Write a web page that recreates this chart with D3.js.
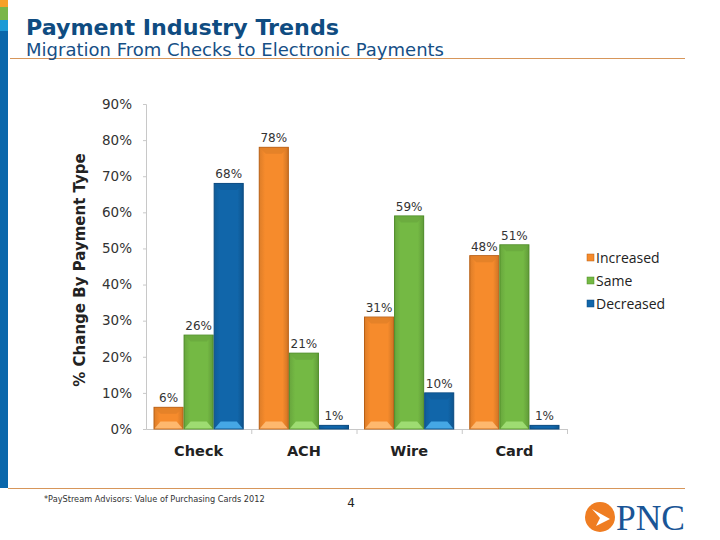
<!DOCTYPE html>
<html>
<head>
<meta charset="utf-8">
<script src="https://cdn.jsdelivr.net/npm/d3@7"></script>
<style>
  html, body { margin: 0; padding: 0; background: #fff; }
  svg { display: block; font-family: "DejaVu Sans", Verdana, sans-serif; }
</style>
</head>
<body>
<svg id="chart" width="720" height="540"></svg>
<script>
// ---- data ----
const categories = ["Check", "ACH", "Wire", "Card"];
const seriesNames = ["Increased", "Same", "Decreased"];
const increased = [6, 78, 31, 48];
const same = [26, 21, 59, 51];
const decreased = [68, 1, 10, 1];
const yTicks = [0, 10, 20, 30, 40, 50, 60, 70, 80, 90];
const titleText = "Payment Industry Trends";
const subtitleText = "Migration From Checks to Electronic Payments";
const yTitle = "% Change By Payment Type";
const footnote = "*PayStream Advisors: Value of Purchasing Cards 2012";
const pageNumber = "4";

const seriesValues = [increased, same, decreased];
const colors = ["#F68B2C", "#74B944", "#1166AA"];
const darkColors = ["#B85F14", "#4C8A25", "#0A4A80"];
const lightColors = ["#FFC07A", "#A6E27A", "#4FB3F0"];

const svg = d3.select("#chart");

// ---- slide frame ----
const stripe = [["#F7A128", 0, 7], ["#7AB648", 7, 20], ["#1C9AD6", 20, 31], ["#0A67AB", 31, 488]];
svg.selectAll("rect.stripe").data(stripe).enter().append("rect")
  .attr("x", 0).attr("y", d => d[1]).attr("width", 8).attr("height", d => d[2] - d[1])
  .attr("fill", d => d[0]);
svg.append("line").attr("x1", 10).attr("x2", 685).attr("y1", 58.5).attr("y2", 58.5)
  .attr("stroke", "#D7965A").attr("stroke-width", 1);
svg.append("line").attr("x1", 8).attr("x2", 685).attr("y1", 488.5).attr("y2", 488.5)
  .attr("stroke", "#D7965A").attr("stroke-width", 1);

svg.append("text").attr("x", 26).attr("y", 35).text(titleText)
  .attr("font-size", 22).attr("font-weight", "bold").attr("fill", "#0F4C81")
  .attr("textLength", 313).attr("lengthAdjust", "spacingAndGlyphs");
svg.append("text").attr("x", 26).attr("y", 56).text(subtitleText)
  .attr("font-size", 17.5).attr("fill", "#164F86")
  .attr("textLength", 418).attr("lengthAdjust", "spacingAndGlyphs");

// ---- chart ----
const x0 = d3.scaleBand().domain(categories).range([146, 567]).paddingInner(0).paddingOuter(0);
const x1 = d3.scaleBand().domain(seriesNames).range([0, x0.bandwidth()]).paddingInner(0).paddingOuter(0.25);
const y = d3.scaleLinear().domain([0, 90]).range([429, 104]);

// defs: gradients for bars
const defs = svg.append("defs");
seriesNames.forEach((s, i) => {
  const g = defs.append("linearGradient").attr("id", "grad" + i).attr("x1", 0).attr("x2", 1).attr("y1", 0).attr("y2", 0);
  g.append("stop").attr("offset", "0%").attr("stop-color", d3.color(colors[i]).darker(0.3));
  g.append("stop").attr("offset", "20%").attr("stop-color", colors[i]);
  g.append("stop").attr("offset", "80%").attr("stop-color", colors[i]);
  g.append("stop").attr("offset", "100%").attr("stop-color", d3.color(colors[i]).darker(0.5));
});

// y axis
const yAxis = d3.axisLeft(y).tickValues(yTicks).tickFormat(d => d + "%").tickSize(3).tickPadding(11);
const gy = svg.append("g").attr("transform", "translate(146,0)").call(yAxis);
gy.select(".domain").attr("stroke", "#C8C8C8");
gy.selectAll(".tick line").attr("stroke", "#C8C8C8");
gy.selectAll(".tick text").attr("font-size", 13.5).attr("fill", "#333").attr("font-family", "DejaVu Sans, sans-serif");

// x axis
const xAxis = d3.axisBottom(x0).tickSize(0).tickPadding(17);
const gx = svg.append("g").attr("transform", "translate(0,429)").call(xAxis);
gx.select(".domain").attr("stroke", "#C8C8C8");
gx.selectAll(".tick text").attr("font-size", 14.5).attr("font-weight", "bold").attr("fill", "#222")
  .attr("font-family", "DejaVu Sans, sans-serif");
// category separators
gx.selectAll("line.sep").data(categories).enter().append("line")
  .attr("x1", d => x0(d) + x0.bandwidth() + 0.5).attr("x2", d => x0(d) + x0.bandwidth() + 0.5)
  .attr("y1", 0).attr("y2", 5).attr("stroke", "#C8C8C8");

// bars
const flat = [];
categories.forEach((c, ci) => seriesNames.forEach((s, si) => flat.push({ c, s, si, v: seriesValues[si][ci] })));

const bars = svg.append("g").selectAll("g.bar").data(flat).enter().append("g");
bars.append("rect")
  .attr("x", d => x0(d.c) + x1(d.s) + 0.5)
  .attr("y", d => y(d.v))
  .attr("width", x1.bandwidth() - 1)
  .attr("height", d => y(0) - y(d.v))
  .attr("fill", d => "url(#grad" + d.si + ")")
  .attr("stroke", d => darkColors[d.si]).attr("stroke-width", 1);
// bottom bevel highlight
bars.filter(d => y(0) - y(d.v) > 14).append("path")
  .attr("d", d => {
    const xl = x0(d.c) + x1(d.s) + 1, w = x1.bandwidth() - 2, yb = y(0) - 0.5;
    return `M${xl},${yb} L${xl + 6},${yb - 7} L${xl + w - 6},${yb - 7} L${xl + w},${yb} Z`;
  })
  .attr("fill", d => lightColors[d.si]).attr("opacity", 0.85);
// top bevel
bars.filter(d => y(0) - y(d.v) > 14).append("path")
  .attr("d", d => {
    const xl = x0(d.c) + x1(d.s) + 1, w = x1.bandwidth() - 2, yt = y(d.v) + 0.5;
    return `M${xl},${yt} L${xl + w},${yt} L${xl + w - 6},${yt + 6} L${xl + 6},${yt + 6} Z`;
  })
  .attr("fill", d => d3.color(colors[d.si]).darker(0.25)).attr("opacity", 0.8);

// value labels
svg.append("g").selectAll("text").data(flat).enter().append("text")
  .attr("x", d => x0(d.c) + x1(d.s) + x1.bandwidth() / 2)
  .attr("y", d => y(d.v) - 5)
  .attr("text-anchor", "middle")
  .attr("font-size", 12).attr("fill", "#333")
  .text(d => d.v + "%");

// y title
svg.append("text").attr("transform", "translate(85,270) rotate(-90)")
  .attr("text-anchor", "middle").attr("font-size", 15).attr("font-weight", "bold").attr("fill", "#222")
  .text(yTitle);

// legend
const legend = svg.append("g").attr("transform", "translate(587,258)");
const li = legend.selectAll("g").data(seriesNames).enter().append("g")
  .attr("transform", (d, i) => `translate(0,${i * 23})`);
li.append("rect").attr("x", 0).attr("y", -4).attr("width", 7).attr("height", 7)
  .attr("fill", (d, i) => colors[i]).attr("stroke", (d, i) => darkColors[i]).attr("stroke-width", 0.5);
li.append("text").attr("x", 9).attr("y", 0).attr("dy", "0.35em").attr("font-size", 14).attr("fill", "#222")
  .attr("font-family", "Open Sans, DejaVu Sans, sans-serif").text(d => d);

// footer
svg.append("text").attr("x", 44).attr("y", 502).attr("font-size", 8.2).attr("fill", "#333").text(footnote);
svg.append("text").attr("x", 351).attr("y", 507).attr("text-anchor", "middle").attr("font-size", 12).attr("fill", "#222").text(pageNumber);

// PNC logo
const logo = svg.append("g").attr("transform", "translate(600,517)");
logo.append("circle").attr("r", 15).attr("fill", "#EF7D22");
logo.append("path").attr("d", "M-8,-8 L10,2 L-4,9 L0,1 Z").attr("fill", "#fff");
logo.append("text").attr("x", 16).attr("y", 13).attr("font-family", "Liberation Serif, serif")
  .attr("font-size", 36).attr("fill", "#1A5596").attr("textLength", 69).attr("lengthAdjust", "spacingAndGlyphs").text("PNC");
</script>
</body>
</html>
